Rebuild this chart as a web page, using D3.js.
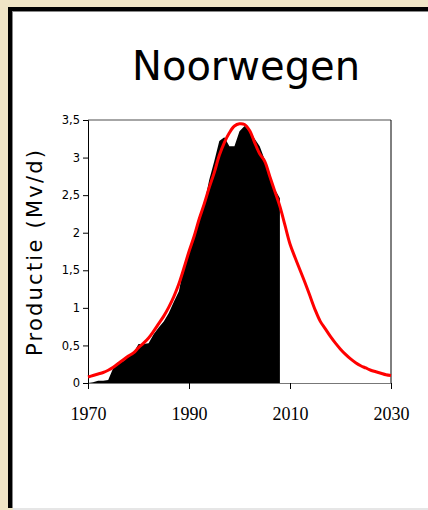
<!DOCTYPE html>
<html><head><meta charset="utf-8">
<script src="https://cdn.jsdelivr.net/npm/d3@7"></script>
<style>html,body{margin:0;padding:0;background:#efe4c6;}svg{display:block;}</style>
</head><body>
<svg id="c" width="428" height="510"></svg>
<script>
const title = "Noorwegen";
const yLabel = "Productie (Mv/d)";
const actualYears = d3.range(1970, 2009);
const actualValues = [0, 0.01, 0.03, 0.03, 0.04, 0.2, 0.28, 0.29, 0.35, 0.4,
  0.52, 0.52, 0.53, 0.65, 0.74, 0.82, 0.93, 1.08, 1.22, 1.55,
  1.72, 1.95, 2.22, 2.38, 2.7, 2.95, 3.22, 3.27, 3.15, 3.15,
  3.35, 3.42, 3.35, 3.25, 3.15, 2.97, 2.78, 2.58, 2.46];
const modelYears = d3.range(1970, 2031);
const modelValues = [0.08, 0.1, 0.12, 0.14, 0.17, 0.21, 0.26, 0.31, 0.36, 0.4,
  0.47, 0.53, 0.6, 0.69, 0.79, 0.89, 1.01, 1.15, 1.32, 1.53,
  1.75, 1.95, 2.18, 2.38, 2.6, 2.8, 3.03, 3.2, 3.33, 3.42,
  3.45, 3.44, 3.36, 3.2, 3.05, 2.95, 2.75, 2.55, 2.35, 2.1,
  1.85, 1.67, 1.5, 1.33, 1.15, 0.97, 0.82, 0.72, 0.62, 0.53,
  0.45, 0.38, 0.32, 0.27, 0.23, 0.2, 0.17, 0.15, 0.13, 0.11, 0.1];
const xTicks = [1970, 1990, 2010, 2030];
const yTicks = [0, 0.5, 1, 1.5, 2, 2.5, 3, 3.5];
const yTickLabels = ["0", "0,5", "1", "1,5", "2", "2,5", "3", "3,5"];

const svg = d3.select("#c");
// panel
svg.append("rect").attr("x", 8).attr("y", 7).attr("width", 430).attr("height", 501).attr("fill", "#000");
svg.append("rect").attr("x", 12).attr("y", 11).attr("width", 430).attr("height", 497).attr("fill", "#888");
svg.append("rect").attr("x", 13).attr("y", 12).attr("width", 430).attr("height", 496).attr("fill", "#fff");
svg.append("rect").attr("x", 13).attr("y", 508).attr("width", 430).attr("height", 2).attr("fill", "#e6e6e6");

const x = d3.scaleLinear().domain([1970, 2030]).range([88, 391]);
const y = d3.scaleLinear().domain([0, 3.5]).range([383, 120]);

svg.append("text").text(title).attr("x", 246).attr("y", 80).attr("text-anchor", "middle")
  .attr("font-family", "DejaVu Sans").attr("font-size", 40).attr("fill", "#000");

svg.append("text").text(yLabel)
  .attr("transform", "translate(42,253) rotate(-90)")
  .attr("text-anchor", "middle").attr("font-family", "DejaVu Sans").attr("font-size", 21)
  .attr("textLength", 206).attr("lengthAdjust", "spacing").attr("fill", "#000");

const actual = actualYears.map((yr, i) => [yr, actualValues[i]]);
const model = modelYears.map((yr, i) => [yr, modelValues[i]]);

svg.append("path").datum(actual)
  .attr("d", d3.area().x(d => x(d[0])).y0(y(0)).y1(d => y(d[1])))
  .attr("fill", "#000");

// frame
svg.append("line").attr("x1", 88).attr("x2", 391).attr("y1", y(3.5)).attr("y2", y(3.5)).attr("stroke", "#888").attr("stroke-width", 1.5);
svg.append("line").attr("x1", 391).attr("x2", 391).attr("y1", y(3.5)).attr("y2", y(0)).attr("stroke", "#000").attr("stroke-width", 1);

const yAxis = svg.append("g").attr("transform", "translate(88,0)")
  .call(d3.axisLeft(y).tickValues(yTicks).tickFormat((d, i) => yTickLabels[i]).tickSize(5).tickPadding(3));
yAxis.select(".domain").attr("stroke", "#000");
yAxis.selectAll("text").attr("font-family", "DejaVu Sans").attr("font-size", 11.5).attr("fill", "#000");

const xAxis = svg.append("g").attr("transform", `translate(0,${y(0)})`)
  .call(d3.axisBottom(x).tickValues(xTicks).tickFormat(d3.format("d")).tickSize(6).tickPadding(18));
xAxis.select(".domain").attr("stroke", "#777");
xAxis.selectAll("text").attr("font-family", "Liberation Serif").attr("font-size", 18).attr("fill", "#000");

svg.append("path").datum(model)
  .attr("d", d3.line().x(d => x(d[0])).y(d => y(d[1])).curve(d3.curveCatmullRom))
  .attr("fill", "none").attr("stroke", "#f00").attr("stroke-width", 3);
</script>
</body></html>
